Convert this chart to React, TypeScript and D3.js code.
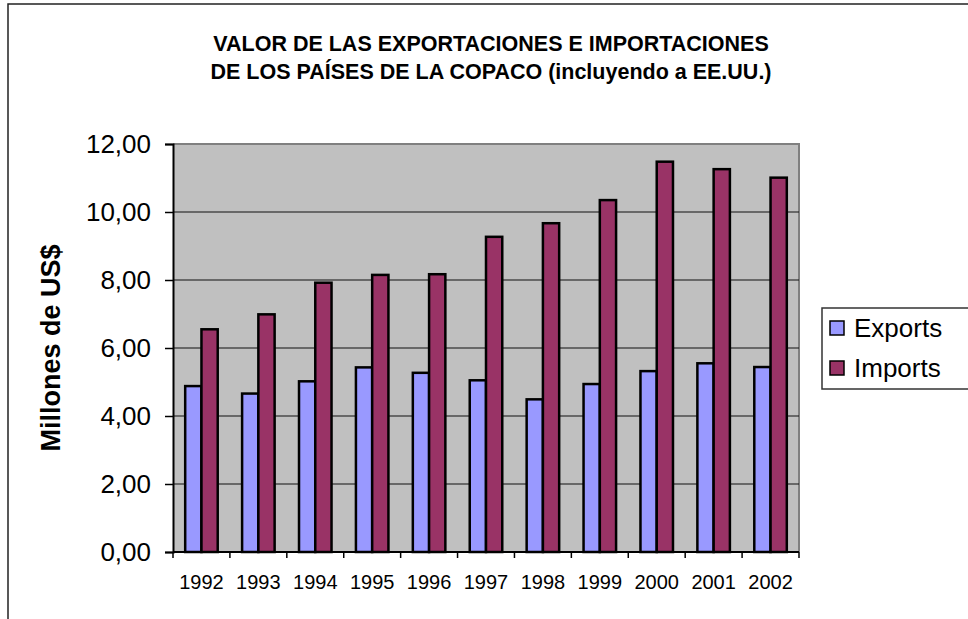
import React, { useEffect, useRef } from 'react';
import * as d3 from 'd3';

// Years on the category axis
const years = ['1992', '1993', '1994', '1995', '1996', '1997', '1998', '1999', '2000', '2001', '2002'];
// Millions of US$ per year
const exportsValues = [4.88, 4.66, 5.02, 5.43, 5.27, 5.05, 4.49, 4.94, 5.32, 5.55, 5.44];
const importsValues = [6.55, 6.99, 7.92, 8.15, 8.17, 9.27, 9.67, 10.35, 11.48, 11.26, 11.01];
const seriesNames = ['Exports', 'Imports'];
const seriesColors = ['#9999FF', '#993366'];
const yTicks = [0, 2, 4, 6, 8, 10, 12];
const titleLines = [
    'VALOR DE LAS EXPORTACIONES E IMPORTACIONES',
    'DE LOS PAÍSES DE LA COPACO (incluyendo a EE.UU.)',
];
const yTitle = 'Millones de US$';

const FONT = 'Liberation Sans, Arial, sans-serif';

const App = () => {
    const svgRef = useRef<SVGSVGElement>(null);

    useEffect(() => {
        const width = 968;
        const height = 619;
        const plot = { left: 173, right: 799, top: 144, bottom: 552 };

        const svg = d3.select(svgRef.current);
        svg.selectAll('*').remove();
        svg.attr('width', width).attr('height', height).style('font-family', FONT);

        // chart area frame (runs off the page on the right and bottom)
        svg.append('path')
            .attr('d', `M8,${height + 5}V4H${width + 5}`)
            .attr('fill', 'none')
            .attr('stroke', '#222')
            .attr('stroke-width', 1.5);

        // title
        svg.append('g')
            .selectAll('text')
            .data(titleLines)
            .join('text')
            .attr('x', 491)
            .attr('y', (d, i) => 51 + i * 28)
            .attr('text-anchor', 'middle')
            .attr('font-size', 21.5)
            .attr('font-weight', 'bold')
            .text((d) => d);

        const x0 = d3.scaleBand<string>().domain(years).range([plot.left, plot.right]).padding(0);
        const x1 = d3.scaleBand<string>()
            .domain(seriesNames)
            .range([0, x0.bandwidth()])
            .paddingInner(0)
            .paddingOuter(0.75);
        const y = d3.scaleLinear().domain([0, 12]).range([plot.bottom, plot.top]);

        // plot area
        svg.append('rect')
            .attr('x', plot.left)
            .attr('y', plot.top)
            .attr('width', plot.right - plot.left)
            .attr('height', plot.bottom - plot.top)
            .attr('fill', '#C0C0C0');
        svg.append('path')
            .attr('d', `M${plot.left},${plot.top}H${plot.right}V${plot.bottom}`)
            .attr('fill', 'none')
            .attr('stroke', '#808080')
            .attr('stroke-width', 2);

        // gridlines
        svg.append('g')
            .selectAll('line')
            .data(yTicks.filter((t) => t > 0 && t < 12))
            .join('line')
            .attr('x1', plot.left)
            .attr('x2', plot.right)
            .attr('y1', (d) => y(d))
            .attr('y2', (d) => y(d))
            .attr('stroke', '#111')
            .attr('stroke-width', 1);

        // bars
        const rows = years.map((year, i) => ({ year, values: [exportsValues[i], importsValues[i]] }));
        svg.append('g')
            .selectAll('g')
            .data(rows)
            .join('g')
            .attr('transform', (d) => `translate(${x0(d.year)},0)`)
            .selectAll('rect')
            .data((d) => d.values.map((v, j) => ({ key: seriesNames[j], v, color: seriesColors[j] })))
            .join('rect')
            .attr('x', (d) => x1(d.key)!)
            .attr('y', (d) => y(d.v))
            .attr('width', x1.bandwidth())
            .attr('height', (d) => y(0) - y(d.v))
            .attr('fill', (d) => d.color)
            .attr('stroke', '#000')
            .attr('stroke-width', 2.5);

        // y axis
        const fmt = d3.formatLocale({ decimal: ',', thousands: '.', grouping: [3], currency: ['$', ''] }).format('.2f');
        const yAxis = svg.append('g')
            .attr('transform', `translate(${plot.left},0)`)
            .call(d3.axisLeft(y).tickValues(yTicks).tickSize(8).tickPadding(14).tickFormat((d) => fmt(d as number)));
        yAxis.select('.domain').attr('stroke', '#000').attr('stroke-width', 2);
        yAxis.selectAll('.tick line').attr('stroke', '#000').attr('stroke-width', 1.5);
        yAxis.selectAll('.tick text')
            .attr('font-size', 26)
            .attr('font-family', FONT)
            .attr('fill', '#000');

        // x axis: line, ticks on category boundaries, labels centred
        const xAxis = svg.append('g');
        xAxis.append('line')
            .attr('x1', plot.left)
            .attr('x2', plot.right)
            .attr('y1', plot.bottom)
            .attr('y2', plot.bottom)
            .attr('stroke', '#000')
            .attr('stroke-width', 2);
        xAxis.selectAll('line.tick')
            .data([...years.map((d) => x0(d)!), plot.right])
            .join('line')
            .attr('class', 'tick')
            .attr('x1', (d) => d)
            .attr('x2', (d) => d)
            .attr('y1', plot.bottom)
            .attr('y2', plot.bottom + 6)
            .attr('stroke', '#000')
            .attr('stroke-width', 1.5);
        xAxis.selectAll('text')
            .data(years)
            .join('text')
            .attr('x', (d) => x0(d)! + x0.bandwidth() / 2)
            .attr('y', 589)
            .attr('text-anchor', 'middle')
            .attr('font-size', 20)
            .text((d) => d);

        // y axis title
        svg.append('text')
            .attr('transform', 'translate(60,348) rotate(-90)')
            .attr('text-anchor', 'middle')
            .attr('font-size', 27)
            .attr('font-weight', 'bold')
            .text(yTitle);

        // legend
        const legend = svg.append('g');
        legend.append('rect')
            .attr('x', 822)
            .attr('y', 308)
            .attr('width', 160)
            .attr('height', 81)
            .attr('fill', '#fff')
            .attr('stroke', '#333')
            .attr('stroke-width', 1.5);
        const items = legend.selectAll('g.item')
            .data(seriesNames)
            .join('g')
            .attr('class', 'item')
            .attr('transform', (d, i) => `translate(830,${328 + i * 40})`);
        items.append('rect')
            .attr('x', 0)
            .attr('y', -7)
            .attr('width', 14)
            .attr('height', 14)
            .attr('fill', (d, i) => seriesColors[i])
            .attr('stroke', '#000')
            .attr('stroke-width', 1.5);
        items.append('text')
            .attr('x', 24)
            .attr('y', 9)
            .attr('font-size', 26)
            .text((d) => d);
    }, []);

    return (
        <div style={{ position: 'absolute', left: 0, top: 0 }}>
            <svg ref={svgRef}></svg>
        </div>
    );
};

export default App;
